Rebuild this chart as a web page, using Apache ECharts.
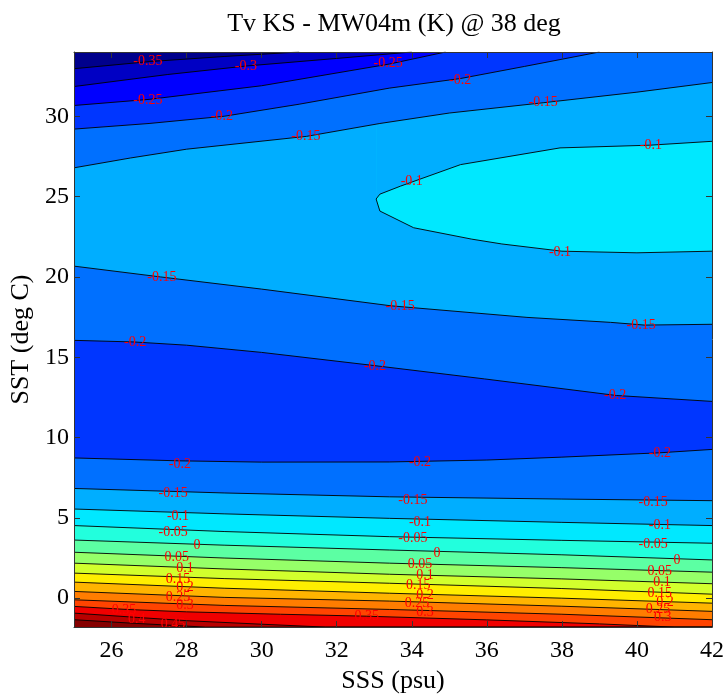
<!DOCTYPE html>
<html><head><meta charset="utf-8">
<script src="https://cdn.jsdelivr.net/npm/echarts@6/dist/echarts.min.js"></script>
<style>html,body{margin:0;padding:0;background:#fff}#c{width:727px;height:699px}</style>
</head><body><div id="c"></div>
<script>
// Axis ticks
const xTicks = [26, 28, 30, 32, 34, 36, 38, 40, 42];
const yTicks = [0, 5, 10, 15, 20, 25, 30];

// Contour lines [SSS, SST] (bottom to top)
const c_p045 = [[25,-1.34],[26.5,-1.55],[27.3,-1.65],[28.5,-1.8],[42,-1.8]];
const c_p040 = [[25,-0.93],[26.7,-1.2],[28,-1.4],[30,-1.62],[31.7,-1.8],[42,-1.8]];
const c_p035 = [[25,-0.51],[26.4,-0.7],[28,-0.85],[30.5,-1.0],[32.8,-1.12],[36,-1.35],[39,-1.6],[41,-1.8],[42,-1.8]];
const c_p030 = [[25,-0.1],[29,-0.45],[33.4,-0.7],[38,-1.0],[42,-1.34]];
const c_p025 = [[25,0.42],[29,0.05],[33.4,-0.18],[38,-0.5],[42,-0.82]];
const c_p020 = [[25,1.0],[29,0.62],[33.4,0.31],[38,0.0],[42,-0.31]];
const c_p015 = [[25,1.56],[29,1.22],[33.4,0.93],[38,0.6],[42,0.25]];
const c_p010 = [[25,2.18],[29,1.82],[33.4,1.49],[38,1.2],[42,0.9]];
const c_p005 = [[25,2.86],[29,2.5],[33.4,2.18],[38,1.9],[42,1.62]];
const c_0000 = [[25,3.62],[29,3.3],[33.4,3.0],[38,2.7],[42,2.38]];
const c_m005b = [[25,4.52],[29,4.15],[33.4,3.83],[38,3.6],[42,3.42]];
const c_m010b = [[25,5.55],[29,5.25],[33.4,4.97],[38,4.72],[42,4.52]];
const c_m015b = [[25,6.83],[29,6.55],[33.4,6.31],[38,6.17],[42,6.07]];
const c_m020l = [[25,8.73],[27.8,8.55],[30,8.47],[33.4,8.48],[36,8.6],[38,8.78],[40.6,9.05],[42,9.26]];
const c_m020m = [[25,16.05],[26.6,15.95],[28,15.75],[30,15.3],[33.0,14.48],[35.94,13.65],[39.45,12.62],[42,12.25]];
const c_m015l = [[25,20.67],[27.3,20.0],[30,19.24],[33.45,18.2],[37.07,17.48],[39.3,17.17],[40.2,17.0],[42,17.05]];
const e_lower = [[33.05,24.85],[33.15,24.1],[34.05,23.06],[35.6,22.35],[36.4,22.05],[38.0,21.6],[40.0,21.5],[42,21.6]];
const e_upper = [[33.05,24.85],[33.15,25.15],[33.7,25.65],[35.3,26.99],[37.95,28.03],[40.35,28.2],[42,28.44]];
const c_m015u = [[25,26.79],[26.5,27.4],[28,27.95],[31.2,28.75],[33.15,29.55],[35,30.2],[37.5,30.84],[40,31.5],[42,32.1]];
const c_m020u = [[25,29.2],[27,29.55],[29,30.0],[31,30.75],[33.4,31.75],[35.3,32.35],[37,33.1],[39,34]];
const c_m025 = [[25,30.67],[27,31.05],[30,31.9],[33.4,33.25],[34.9,34]];
const c_m030 = [[25,31.85],[27.5,32.6],[29.6,33.13],[32,33.6],[34,34]];
const c_m035 = [[25,32.96],[27,33.4],[29,33.72],[31,34]];

// Contour labels
const labelText = ['-0.35','-0.3','-0.25','-0.2','-0.25','-0.2','-0.15','-0.15','-0.1','-0.1','-0.1',
  '-0.15','-0.15','-0.15','-0.2','-0.2','-0.2',
  '-0.2','-0.15','-0.1','-0.05','0','0.05','0.1','0.15','0.2','0.25','0.3','0.35','0.4','0.45',
  '-0.2','-0.15','-0.1','-0.05','0','0.05','0.1','0.15','0.2','0.25','0.3','0.35',
  '-0.2','-0.15','-0.1','-0.05','0','0.05','0.1','0.15','0.2','0.25','0.3'];
const labelX = [26.97,29.58,33.37,35.29,26.97,28.94,31.18,37.5,34.0,40.37,37.95,
  27.34,33.69,40.11,26.63,33.02,39.42,
  27.82,27.64,27.77,27.64,28.28,27.74,27.96,27.77,27.96,27.77,27.96,26.33,26.67,27.64,
  34.22,34.03,34.22,34.03,34.67,34.22,34.35,34.17,34.35,34.14,34.35,32.8,
  40.61,40.43,40.61,40.43,41.07,40.61,40.67,40.61,40.75,40.56,40.69];
const labelY = [33.40,33.13,33.29,32.26,31.02,29.97,28.75,30.84,25.94,28.17,21.53,
  19.98,18.18,16.96,15.95,14.46,12.6,
  8.35,6.5,5.1,4.12,3.28,2.57,1.83,1.2,0.68,0.07,-0.46,-0.78,-1.3,-1.62,
  8.45,6.12,4.75,3.75,2.8,2.1,1.42,0.8,0.2,-0.35,-0.87,-1.15,
  9.0,5.98,4.52,3.38,2.38,1.68,1.0,0.32,-0.25,-0.72,-1.2];

// Band colour filled above each contour (style only)
const contours = [c_p045,c_p040,c_p035,c_p030,c_p025,c_p020,c_p015,c_p010,c_p005,c_0000,c_m005b,c_m010b,c_m015b,c_m020l,c_m020m,c_m015l,e_lower,e_upper,c_m015u,c_m020u,c_m025,c_m030,c_m035];
const fills = ['#b80000','#f00000','#ff4400','#ff7d00','#ffb400','#ffee00','#d2ff2d','#96ff69','#5cffa3','#22ffdd','#00e8ff','#00aeff','#0070ff','#0036ff','#0070ff','#00aeff','#00e8ff','#00aeff','#0070ff','#0036ff','#0000ff','#0000c4','#00008c'];

const FONT = 'Liberation Serif';
const axisCol = '#333';

const series = contours.map((pts, i) => ({
  type: 'line', data: pts, symbol: 'none', showSymbol: false, silent: true,
  lineStyle: { color: '#000', width: 0.9 },
  areaStyle: { color: fills[i], opacity: 1, origin: 'end' },
  z: 2, animation: false
}));
series.push({
  type: 'scatter', silent: true, animation: false, z: 5,
  symbol: 'circle', symbolSize: 1, itemStyle: { color: 'rgba(0,0,0,0)' },
  data: labelText.map((t, i) => ({ value: [labelX[i], labelY[i]], name: t })),
  label: { show: true, position: 'inside', formatter: '{b}', color: '#ff0000', fontSize: 14, fontFamily: FONT, opacity: 1 },
  labelLayout: { hideOverlap: false }
});

function xa(pos, showLabel) {
  return {
    type: 'value', min: 25, max: 42, position: pos, z: 10,
    axisLine: { show: true, onZero: false, lineStyle: { color: axisCol, width: 1 } },
    axisTick: { show: true, inside: true, length: 6, customValues: xTicks, lineStyle: { color: axisCol } },
    axisLabel: { show: showLabel, customValues: xTicks, fontFamily: FONT, fontSize: 24, color: '#000', margin: 12 },
    splitLine: { show: false },
    name: showLabel ? 'SSS (psu)' : '', nameLocation: 'middle', nameGap: 34,
    nameTextStyle: { fontFamily: FONT, fontSize: 26, color: '#000' }
  };
}
function ya(pos, showLabel) {
  return {
    type: 'value', min: -1.8, max: 34, position: pos, z: 10,
    axisLine: { show: true, onZero: false, lineStyle: { color: axisCol, width: 1 } },
    axisTick: { show: true, inside: true, length: 6, customValues: yTicks, lineStyle: { color: axisCol } },
    axisLabel: { show: showLabel, customValues: yTicks, fontFamily: FONT, fontSize: 24, color: '#000', margin: 5 },
    splitLine: { show: false },
    name: showLabel ? 'SST (deg C)' : '', nameLocation: 'middle', nameGap: 34,
    nameTextStyle: { fontFamily: FONT, fontSize: 26, color: '#000' }
  };
}

const chart = echarts.init(document.getElementById('c'), null, { renderer: 'canvas' });
chart.setOption({
  animation: false,
  backgroundColor: '#fff',
  title: { text: 'Tv KS - MW04m (K) @ 38 deg', left: 389, textAlign: 'center', top: 6,
    textStyle: { fontFamily: FONT, fontSize: 26, fontWeight: 'normal', color: '#000' } },
  grid: { left: 74, right: 15, top: 52, bottom: 70, show: true, backgroundColor: '#850000', borderWidth: 0 },
  xAxis: [xa('bottom', true), xa('top', false)],
  yAxis: [ya('left', true), ya('right', false)],
  series: series
});
</script></body></html>
